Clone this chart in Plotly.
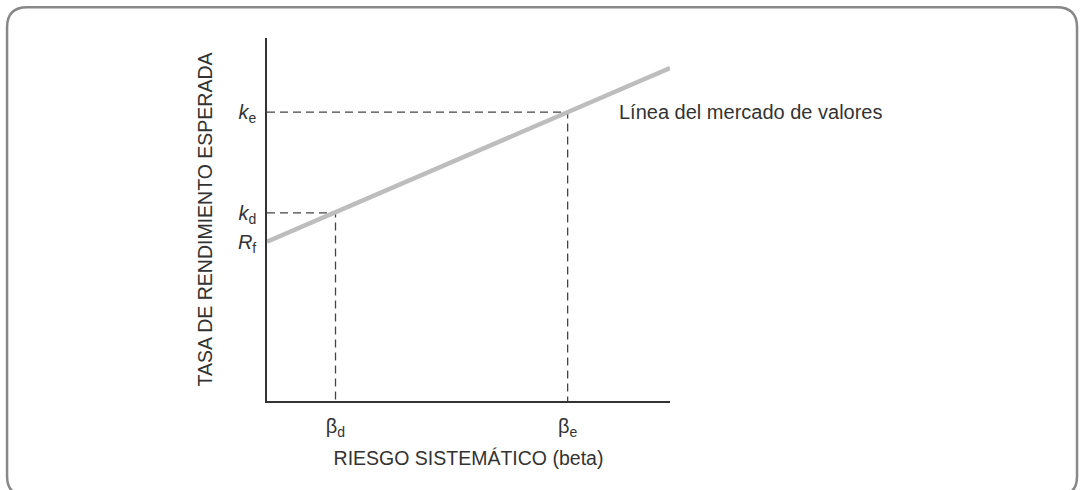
import plotly.graph_objects as go

# values (axis units 0..10)
sml_beta = [0.0, 10.0]
sml_return = [4.39, 9.17]
beta_names = ["d", "e"]
beta_values = [1.70, 7.46]
k_values = [5.18, 7.96]
rf_value = 4.39

y_tick_vals = [rf_value, k_values[0], k_values[1]]
y_tick_text = ["<i>R</i><sub>f</sub>", "<i>k</i><sub>d</sub>", "<i>k</i><sub>e</sub>"]
x_tick_text = ["β<sub>%s</sub>" % n for n in beta_names]

FONT = "Liberation Sans, Arial, sans-serif"
TXT = "#333333"

fig = go.Figure()

# dashed guides from each beta point to both axes
for b, k in zip(beta_values, k_values):
    fig.add_trace(go.Scatter(x=[0, b, b], y=[k, k, 0], mode="lines",
                             line=dict(color="#444444", width=1.3, dash="8px,5px"),
                             hoverinfo="skip"))

# security market line
fig.add_trace(go.Scatter(x=sml_beta, y=sml_return, mode="lines",
                         line=dict(color="#bdbdbd", width=4.5), hoverinfo="skip"))

fig.add_annotation(x=beta_values[1], y=k_values[1], xref="x", yref="y",
                   text="Línea del mercado de valores", showarrow=False,
                   xanchor="left", yanchor="middle", xshift=49,
                   font=dict(family=FONT, size=20, color=TXT))

# rounded border around the whole figure (paper coords)
L, R, T, B = -0.645, 2.010, 1.085, -0.262
rx, ry = 0.05, 0.055
path = (f"M {L+rx},{T} L {R-rx},{T} Q {R},{T} {R},{T-ry} L {R},{B+ry} "
        f"Q {R},{B} {R-rx},{B} L {L+rx},{B} Q {L},{B} {L},{B+ry} "
        f"L {L},{T-ry} Q {L},{T} {L+rx},{T} Z")
fig.add_shape(type="path", path=path, xref="paper", yref="paper",
              line=dict(color="#888888", width=2.5), layer="above")

fig.update_layout(
    width=1085, height=490,
    margin=dict(l=267, r=415, t=38, b=89, autoexpand=False),
    paper_bgcolor="white", plot_bgcolor="white",
    showlegend=False,
    font=dict(family=FONT, size=19.5, color=TXT),
    xaxis=dict(range=[0, 10], showgrid=False, zeroline=False,
               showline=True, linecolor="#333333", linewidth=1.5,
               tickvals=beta_values, ticktext=x_tick_text, ticks="",
               tickfont=dict(size=20), ticklabelstandoff=6,
               title=dict(text="RIESGO SISTEMÁTICO (beta)", standoff=12,
                          font=dict(size=19.5))),
    yaxis=dict(range=[0, 10], showgrid=False, zeroline=False,
               showline=True, linecolor="#333333", linewidth=1.5,
               tickvals=y_tick_vals, ticktext=y_tick_text, ticks="",
               tickfont=dict(size=20), ticklabelstandoff=5,
               title=dict(text="TASA DE RENDIMIENTO ESPERADA", standoff=20,
                          font=dict(size=19.5))),
)

fig.write_html("out.html", config={"displayModeBar": False},
               post_script="document.body.style.margin='0px';")
